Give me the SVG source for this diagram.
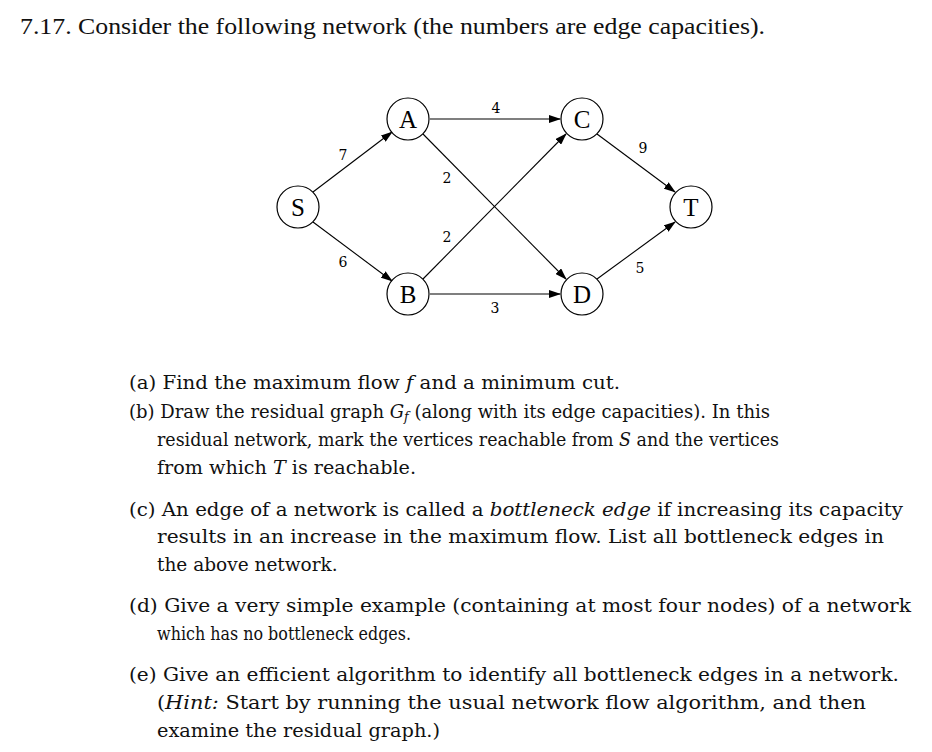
<svg xmlns="http://www.w3.org/2000/svg" width="932" height="752" viewBox="0 0 932 752">
<style>
.t{font-family:"DejaVu Serif","Liberation Serif",serif;font-size:18.5px;fill:#111}
.h{font-family:"Liberation Serif",serif;font-size:23px;fill:#111}
.n circle{fill:#fff;stroke:#000;stroke-width:1.2}
.n text{font-family:"Liberation Serif",serif;font-size:25px;text-anchor:middle}
.l{font-family:"DejaVu Serif","Liberation Serif",serif;font-size:14px;text-anchor:middle}
.e line{stroke:#000;stroke-width:1.1;marker-end:url(#ar)}
</style>
<defs><marker id="ar" markerWidth="12" markerHeight="8" refX="11" refY="4" orient="auto" markerUnits="userSpaceOnUse"><path d="M0,0 L12,4 L0,8 Z"/></marker></defs>
<rect width="932" height="752" fill="#fff"/>
<text class="h" x="20" y="34" textLength="745" lengthAdjust="spacingAndGlyphs">7.17. Consider the following network (the numbers are edge capacities).</text>
<g class="e" id="edges">
<line x1="313" y1="192" x2="392" y2="132"/>
<line x1="313" y1="222" x2="392" y2="281"/>
<line x1="430" y1="119" x2="560" y2="119"/>
<line x1="423" y1="134" x2="566" y2="279"/>
<line x1="423" y1="279" x2="566" y2="134"/>
<line x1="430" y1="294" x2="560" y2="294"/>
<line x1="597" y1="134" x2="675" y2="192"/>
<line x1="597" y1="279" x2="675" y2="222"/>
</g>
<g id="labels">
<text class="l" x="343" y="160">7</text>
<text class="l" x="343" y="267">6</text>
<text class="l" x="496" y="113">4</text>
<text class="l" x="447" y="183">2</text>
<text class="l" x="447" y="242">2</text>
<text class="l" x="495" y="313">3</text>
<text class="l" x="643" y="153">9</text>
<text class="l" x="640" y="273">5</text>
</g>
<g class="n" id="S"><circle cx="298" cy="207" r="21"/><text x="298" y="216">S</text></g>
<g class="n" id="A"><circle cx="408" cy="119" r="21"/><text x="408" y="128">A</text></g>
<g class="n" id="B"><circle cx="408" cy="294" r="21"/><text x="408" y="303">B</text></g>
<g class="n" id="C"><circle cx="582" cy="119" r="21"/><text x="582" y="128">C</text></g>
<g class="n" id="D"><circle cx="582" cy="294" r="21"/><text x="582" y="303">D</text></g>
<g class="n" id="T"><circle cx="691" cy="207" r="21"/><text x="691" y="216">T</text></g>
<g id="questions">
<text class="t" x="129" y="389" textLength="491" lengthAdjust="spacingAndGlyphs">(a) Find the maximum flow <tspan font-style="italic">f</tspan> and a minimum cut.</text>
<text class="t" x="129" y="418" textLength="641" lengthAdjust="spacingAndGlyphs">(b) Draw the residual graph <tspan font-style="italic">G<tspan font-size="13" dy="3">f</tspan></tspan><tspan dy="-3"> (along with its edge capacities). In this</tspan></text>
<text class="t" x="157" y="446" textLength="622" lengthAdjust="spacingAndGlyphs">residual network, mark the vertices reachable from <tspan font-style="italic">S</tspan> and the vertices</text>
<text class="t" x="157" y="474" textLength="259" lengthAdjust="spacingAndGlyphs">from which <tspan font-style="italic">T</tspan> is reachable.</text>
<text class="t" x="129" y="516" textLength="774" lengthAdjust="spacingAndGlyphs">(c) An edge of a network is called a <tspan font-style="italic">bottleneck edge</tspan> if increasing its capacity</text>
<text class="t" x="157" y="543" textLength="727" lengthAdjust="spacingAndGlyphs">results in an increase in the maximum flow. List all bottleneck edges in</text>
<text class="t" x="157" y="571">the above network.</text>
<text class="t" x="129" y="612" textLength="782" lengthAdjust="spacingAndGlyphs">(d) Give a very simple example (containing at most four nodes) of a network</text>
<text class="t" x="157" y="640" textLength="254" lengthAdjust="spacingAndGlyphs">which has no bottleneck edges.</text>
<text class="t" x="129" y="681" textLength="770" lengthAdjust="spacingAndGlyphs">(e) Give an efficient algorithm to identify all bottleneck edges in a network.</text>
<text class="t" x="157" y="709" textLength="709" lengthAdjust="spacingAndGlyphs">(<tspan font-style="italic">Hint:</tspan> Start by running the usual network flow algorithm, and then</text>
<text class="t" x="157" y="737" textLength="283" lengthAdjust="spacingAndGlyphs">examine the residual graph.)</text>
</g>
</svg>
